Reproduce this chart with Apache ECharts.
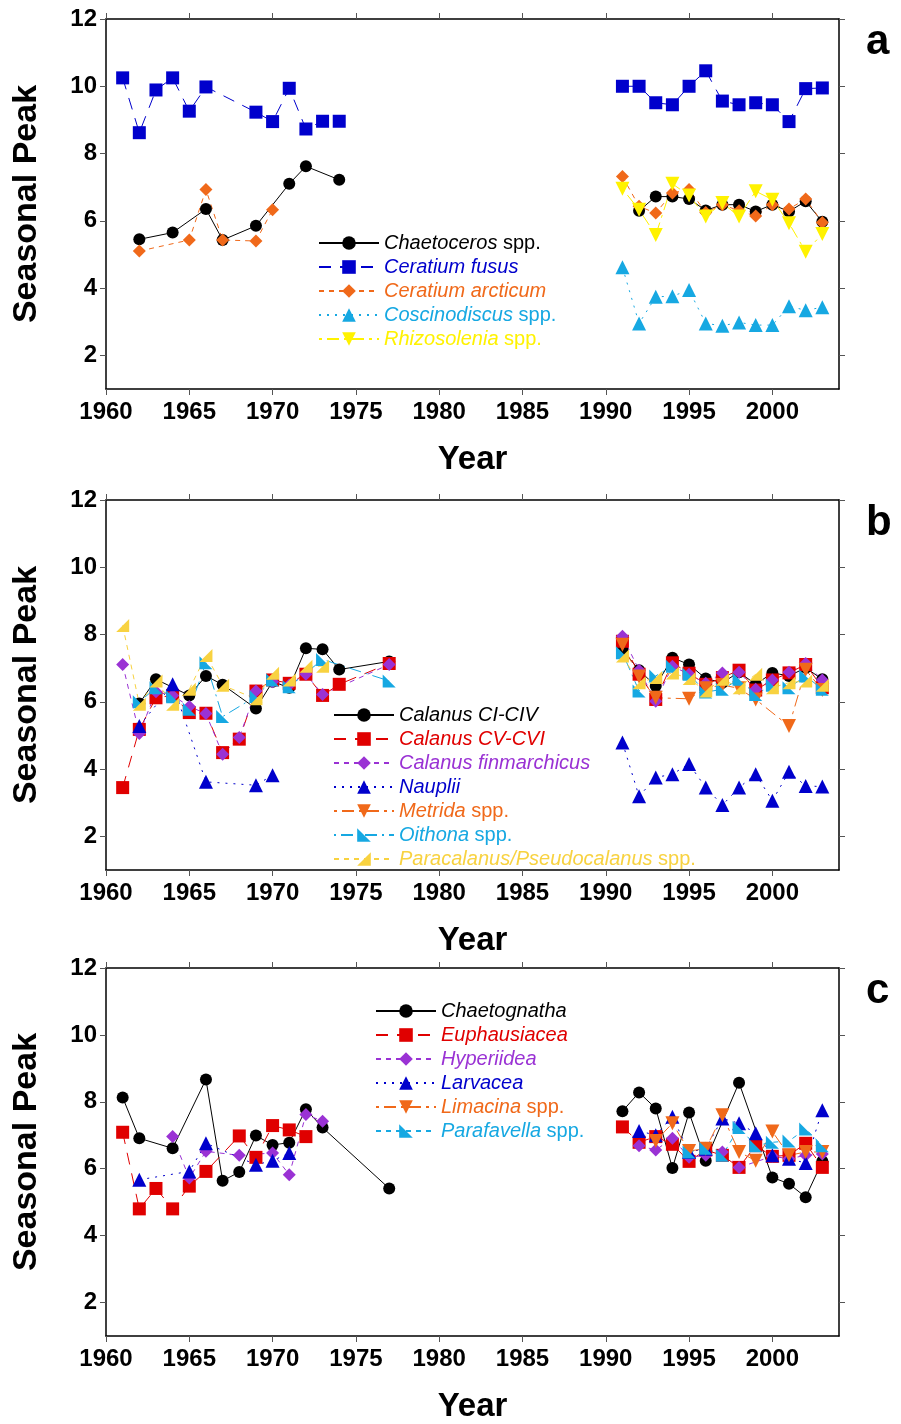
<!DOCTYPE html>
<html><head><meta charset="utf-8">
<script src="https://cdn.jsdelivr.net/npm/echarts@6/dist/echarts.min.js"></script>
<style>html,body{margin:0;padding:0;background:#fff}#c{width:901px;height:1424px}</style>
</head><body><div id="c"></div><script>
// ---------- tick labels ----------
const xTicks = [1960, 1965, 1970, 1975, 1980, 1985, 1990, 1995, 2000];
const yTicks = [2, 4, 6, 8, 10, 12];
const panelLetters = ['a', 'b', 'c'];

// ---------- panel a (phytoplankton) ----------
const chaetoceros = [[1962,5.45],[1964,5.65],[1966,6.35],[1967,5.43],[1969,5.85],[1971,7.1],[1972,7.62],[1974,7.22],
  [1992,6.3],[1993,6.72],[1994,6.72],[1995,6.65],[1996,6.31],[1997,6.48],[1998,6.48],[1999,6.28],[2000,6.48],[2001,6.28],[2002,6.58],[2003,5.97]];
const ceratiumFusus = [[1961,10.25],[1962,8.62],[1963,9.89],[1964,10.25],[1965,9.26],[1966,9.98],[1969,9.23],[1970,8.95],[1971,9.94],[1972,8.73],[1973,8.96],[1974,8.96],
  [1991,10.0],[1992,10.0],[1993,9.51],[1994,9.45],[1995,10.0],[1996,10.46],[1997,9.56],[1998,9.45],[1999,9.51],[2000,9.45],[2001,8.95],[2002,9.93],[2003,9.95]];
const ceratiumArcticum = [[1962,5.1],[1965,5.43],[1966,6.93],[1967,5.43],[1969,5.4],[1970,6.33],
  [1991,7.32],[1992,6.43],[1993,6.23],[1994,6.83],[1995,6.93],[1996,6.25],[1997,6.48],[1998,6.3],[1999,6.14],[2000,6.48],[2001,6.35],[2002,6.65],[2003,5.95]];
const coscinodiscus = [[1991,4.62],[1992,2.95],[1993,3.74],[1994,3.76],[1995,3.94],[1996,2.95],[1997,2.88],[1998,2.98],[1999,2.9],[2000,2.9],[2001,3.46],[2002,3.34],[2003,3.43]];
const rhizosolenia = [[1991,6.95],[1992,6.33],[1993,5.58],[1994,7.1],[1995,6.75],[1996,6.13],[1997,6.53],[1998,6.13],[1999,6.88],[2000,6.63],[2001,5.93],[2002,5.08],[2003,5.61]];

// ---------- panel b (copepods) ----------
const calanusCI = [[1962,5.95],[1963,6.67],[1965,6.19],[1966,6.77],[1967,6.51],[1969,5.8],[1970,6.6],[1971,6.42],[1972,7.59],[1973,7.56],[1974,6.96],[1977,7.2],
  [1991,7.55],[1992,6.94],[1993,6.47],[1994,7.31],[1995,7.11],[1996,6.69],[1997,6.57],[1998,6.88],[1999,6.52],[2000,6.86],[2001,6.77],[2002,7.01],[2003,6.67]];
const calanusCV = [[1961,3.45],[1962,5.18],[1963,6.12],[1964,6.19],[1965,5.68],[1966,5.66],[1967,4.49],[1968,4.89],[1969,6.32],[1970,6.65],[1971,6.55],[1972,6.82],[1973,6.19],[1974,6.52],[1977,7.14],
  [1991,7.8],[1992,6.82],[1993,6.07],[1994,7.16],[1995,6.85],[1996,6.52],[1997,6.72],[1998,6.94],[1999,6.35],[2000,6.65],[2001,6.86],[2002,7.11],[2003,6.42]];
const calanusFin = [[1961,7.11],[1962,5.06],[1963,6.3],[1964,6.19],[1965,5.86],[1966,5.65],[1967,4.44],[1968,4.94],[1969,6.32],[1970,6.6],[1971,6.5],[1972,6.82],[1973,6.22],[1977,7.11],
  [1991,7.95],[1992,6.94],[1993,6.02],[1994,7.06],[1995,6.82],[1996,6.55],[1997,6.86],[1998,6.88],[1999,6.37],[2000,6.65],[2001,6.88],[2002,7.14],[2003,6.65]];
const nauplii = [[1962,5.28],[1964,6.52],[1966,3.62],[1969,3.52],[1970,3.82],
  [1991,4.79],[1992,3.19],[1993,3.75],[1994,3.85],[1995,4.15],[1996,3.45],[1997,2.93],[1998,3.45],[1999,3.85],[2000,3.06],[2001,3.92],[2002,3.5],[2003,3.48]];
const metrida = [[1991,7.7],[1992,6.75],[1993,6.12],[1995,6.09],[1996,6.4],[1997,6.5],[1998,6.4],[1999,6.07],[2001,5.28],[2002,6.95],[2003,6.35]];
const oithona = [[1962,6.0],[1963,6.42],[1964,6.15],[1965,5.78],[1966,7.16],[1967,5.56],[1969,6.16],[1970,6.65],[1971,6.45],[1973,7.26],[1977,6.62],
  [1991,7.46],[1992,6.32],[1993,6.77],[1994,7.06],[1995,6.82],[1996,6.29],[1997,6.37],[1998,6.67],[1999,6.22],[2000,6.49],[2001,6.42],[2002,6.77],[2003,6.37]];
const paracalanus = [[1961,8.27],[1962,5.93],[1963,6.62],[1964,5.93],[1965,6.37],[1966,7.38],[1967,6.49],[1969,6.09],[1970,6.85],[1971,6.65],[1972,7.06],[1973,7.06],
  [1991,7.36],[1992,6.57],[1993,6.72],[1994,6.86],[1995,6.69],[1996,6.32],[1997,6.67],[1998,6.42],[1999,6.82],[2000,6.42],[2001,6.57],[2002,6.62],[2003,6.49]];

// ---------- panel c (other zooplankton) ----------
const chaetognatha = [[1961,8.13],[1962,6.91],[1964,6.61],[1966,8.67],[1967,5.64],[1968,5.9],[1969,6.99],[1970,6.71],[1971,6.78],[1972,7.78],[1973,7.23],[1977,5.41],
  [1991,7.72],[1992,8.28],[1993,7.8],[1994,6.02],[1995,7.68],[1996,6.24],[1998,8.57],[2000,5.74],[2001,5.55],[2002,5.15],[2003,6.22]];
const euphausiacea = [[1961,7.09],[1962,4.8],[1963,5.41],[1964,4.8],[1965,5.48],[1966,5.92],[1968,6.98],[1969,6.34],[1970,7.29],[1971,7.16],[1972,6.96],
  [1991,7.25],[1992,6.79],[1993,6.96],[1994,6.73],[1995,6.22],[1996,6.56],[1997,6.4],[1998,6.04],[1999,6.69],[2000,6.37],[2001,6.4],[2002,6.76],[2003,6.04]];
const hyperiidea = [[1964,6.96],[1965,5.72],[1966,6.52],[1968,6.4],[1970,6.47],[1971,5.82],[1972,7.62],[1973,7.42],
  [1992,6.69],[1993,6.56],[1994,6.91],[1995,6.34],[1996,6.4],[1997,6.5],[1998,6.04],[2000,6.37],[2001,6.3],[2002,6.4],[2003,6.44]];
const larvacea = [[1962,5.67],[1965,5.92],[1966,6.76],[1969,6.12],[1970,6.24],[1971,6.47],
  [1992,7.13],[1993,7.0],[1994,7.55],[1995,6.5],[1996,6.6],[1997,7.5],[1998,7.36],[1999,7.06],[2000,6.4],[2001,6.3],[2002,6.17],[2003,7.75]];
const limacina = [[1993,6.83],[1994,7.36],[1995,6.53],[1996,6.6],[1997,7.6],[1998,6.5],[1999,6.24],[2000,7.11],[2001,6.4],[2002,6.5],[2003,6.5]];
const parafavella = [[1995,6.5],[1996,6.61],[1997,6.4],[1998,7.23],[1999,6.69],[2000,6.79],[2001,6.83],[2002,7.19],[2003,6.69]];

// ---------- styling ----------
const C = {black:'#000000', blue:'#0000CC', orange:'#F0691A', sky:'#16A8E2', yellow:'#FFF200', gold:'#F8D240', red:'#E00000', purple:'#9A32D4'};
const SYM = {
  circle:'circle', square:'rect', diamond:'diamond', tri:'triangle',
  down:'path://M0,0 L10,0 L5,10 Z',
  rtLeft:'path://M0,0 L0,10 L10,10 Z',
  rtRight:'path://M10,0 L10,10 L0,10 Z'
};
const DASH = {solid:'solid', long:[12,9], dash:[5,5], dot:[2,6], dashdot:[3,5,12,5], dotlong:[2,5,12,5]};

const FONT = "'Liberation Sans', Arial, sans-serif";

function brk(pts) {
  const out = [];
  pts.forEach((p, i) => {
    if (i > 0 && p[0] - pts[i-1][0] > 10) out.push([(p[0] + pts[i-1][0]) / 2, '-']);
    out.push(p);
  });
  return out;
}

const panels = [
  [
    ['Chaetoceros spp.', chaetoceros, C.black, SYM.circle, 12, DASH.solid],
    ['Ceratium fusus', ceratiumFusus, C.blue, SYM.square, 13, DASH.long],
    ['Ceratium arcticum', ceratiumArcticum, C.orange, SYM.diamond, 13, DASH.dash],
    ['Coscinodiscus spp.', coscinodiscus, C.sky, SYM.tri, 14, DASH.dot],
    ['Rhizosolenia spp.', rhizosolenia, C.yellow, SYM.down, 14, DASH.dashdot]
  ],
  [
    ['Calanus CI-CIV', calanusCI, C.black, SYM.circle, 12, DASH.solid],
    ['Calanus CV-CVI', calanusCV, C.red, SYM.square, 13, DASH.long],
    ['Calanus finmarchicus', calanusFin, C.purple, SYM.diamond, 13, DASH.dash],
    ['Nauplii', nauplii, C.blue, SYM.tri, 14, DASH.dot],
    ['Metrida spp.', metrida, C.orange, SYM.down, 14, DASH.dashdot],
    ['Oithona spp.', oithona, C.sky, SYM.rtLeft, 13, DASH.dotlong],
    ['Paracalanus/Pseudocalanus spp.', paracalanus, C.gold, SYM.rtRight, 13, DASH.dash]
  ],
  [
    ['Chaetognatha', chaetognatha, C.black, SYM.circle, 12, DASH.solid],
    ['Euphausiacea', euphausiacea, C.red, SYM.square, 13, DASH.long],
    ['Hyperiidea', hyperiidea, C.purple, SYM.diamond, 13, DASH.dash],
    ['Larvacea', larvacea, C.blue, SYM.tri, 14, DASH.dot],
    ['Limacina spp.', limacina, C.orange, SYM.down, 14, DASH.dashdot],
    ['Parafavella spp.', parafavella, C.sky, SYM.rtLeft, 13, DASH.dash]
  ]
];

const gridTops = [19, 500, 968];
const gridH = 370;
const legendPos = [[313, 228], [328, 700], [370, 996]];

const grids = [], xAxes = [], yAxes = [], series = [], legends = [], graphics = [];
const tickStyle = {show:true, inside:false, length:6, lineStyle:{color:'#555', width:1}};
const lineStyleAxis = {show:true, onZero:false, lineStyle:{color:'#000', width:1.5}};

gridTops.forEach((top) => {
  grids.push({left:106, right:62, top:top, height:gridH, containLabel:false});
});
// main axes (0..2), mirror axes (3..5)
gridTops.forEach((top, i) => {
  xAxes.push({gridIndex:i, type:'value', position:'bottom', min:1960, max:2004,
    axisLine:lineStyleAxis, axisTick:Object.assign({customValues:xTicks}, tickStyle),
    axisLabel:{customValues:xTicks, formatter:(v) => String(v), margin:11, color:'#000', fontFamily:FONT, fontWeight:'bold', fontSize:24},
    splitLine:{show:false},
    name:'Year', nameLocation:'middle', nameGap:54,
    nameTextStyle:{color:'#000', fontFamily:FONT, fontWeight:'bold', fontSize:33}});
  yAxes.push({gridIndex:i, type:'value', position:'left', min:1, max:12,
    axisLine:lineStyleAxis, axisTick:Object.assign({customValues:yTicks}, tickStyle),
    axisLabel:{customValues:yTicks, formatter:(v) => String(v), margin:9, color:'#000', fontFamily:FONT, fontWeight:'bold', fontSize:24},
    splitLine:{show:false},
    name:'Seasonal Peak', nameLocation:'middle', nameGap:62, nameRotate:90,
    nameTextStyle:{color:'#000', fontFamily:FONT, fontWeight:'bold', fontSize:34}});
});
gridTops.forEach((top, i) => {
  xAxes.push({gridIndex:i, type:'value', position:'top', min:1960, max:2004,
    axisLine:lineStyleAxis, axisTick:Object.assign({customValues:xTicks}, tickStyle),
    axisLabel:{show:false}, splitLine:{show:false}});
  yAxes.push({gridIndex:i, type:'value', position:'right', min:1, max:12,
    axisLine:lineStyleAxis, axisTick:Object.assign({customValues:yTicks}, tickStyle),
    axisLabel:{show:false}, splitLine:{show:false}});
});

panels.forEach((list, gi) => {
  list.forEach(([name, data, color, sym, size, dash]) => {
    series.push({
      name, type:'line', xAxisIndex:gi, yAxisIndex:gi, data:brk(data),
      symbol:sym, symbolSize:size, showAllSymbol:true, connectNulls:false,
      lineStyle:{color, width:1, type:dash}, itemStyle:{color},
      emphasis:{disabled:true}, animation:false
    });
  });
  legends.push({
    left:legendPos[gi][0], top:legendPos[gi][1], orient:'vertical',
    itemWidth:60, itemHeight:17, itemGap:4, selectedMode:false,
    data:list.map(([name, , color]) => ({name, textStyle:{color}})),
    formatter:(name) => name.endsWith(' spp.')
      ? '{i|' + name.slice(0, -5) + '}{n| spp.}'
      : '{i|' + name + '}',
    textStyle:{fontFamily:FONT, fontSize:20, lineHeight:20,
      rich:{i:{fontStyle:'italic', fontFamily:FONT, fontSize:20}, n:{fontFamily:FONT, fontSize:20}}}
  });
  graphics.push({type:'text', left:866, top:gridTops[gi] + 2,
    style:{text:panelLetters[gi], fill:'#000', font:'bold 42px ' + FONT}});
});

const chart = echarts.init(document.getElementById('c'), null, {renderer:'canvas'});
chart.setOption({
  backgroundColor:'#fff', animation:false,
  grid:grids, xAxis:xAxes, yAxis:yAxes, series, legend:legends, graphic:graphics
});
</script></body></html>
